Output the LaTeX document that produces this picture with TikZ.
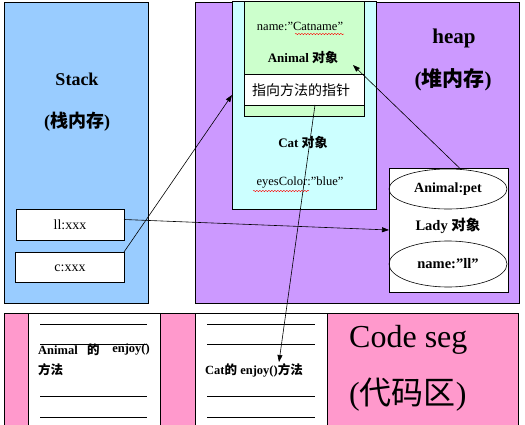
\documentclass[tikz,border=0pt]{standalone}
\usepackage{fontspec}
\setmainfont{Liberation Serif}
\newfontfamily\cjk{Noto Sans CJK SC}
\usetikzlibrary{arrows.meta,decorations.pathmorphing,shapes.geometric}
\definecolor{stackblue}{HTML}{99CCFF}
\definecolor{heapviolet}{HTML}{CC99FF}
\definecolor{catcyan}{HTML}{CCFFFF}
\definecolor{animalgreen}{HTML}{CCFFCC}
\definecolor{codepink}{HTML}{FF99CC}
\newcommand{\zh}[1]{{\cjk #1}}
\newcommand{\fs}[1]{\fontsize{#1}{#1}\selectfont}
\begin{document}
\begin{tikzpicture}[x=1pt,y=-1pt,
  box/.style={draw=black, line width=0.8pt, anchor=north west, inner sep=0pt, outer sep=0pt},
  plain/.style={draw=none, anchor=north west, inner sep=0pt, outer sep=0pt},
  oval/.style={draw=black, line width=0.6pt, ellipse, inner sep=0pt, outer sep=0pt},
  lbl/.style={inner sep=0pt, outer sep=0pt, font=\fs{12.5}},
  blbl/.style={inner sep=0pt, outer sep=0pt, font=\fs{13}\bfseries},
  rule/.style={line width=0.7pt},
  squiggle/.style={red, line width=0.4pt, decorate, decoration={snake, segment length=3pt, amplitude=0.7pt}},
  arr/.style={-{Triangle[length=7pt,width=5pt]}, line width=0.6pt}]
\useasboundingbox (0,0) rectangle (525,425);

% ---------- Stack ----------
\node[box, fill=stackblue, minimum width=144pt, minimum height=301pt] (stack) at (4,2) {};
\node[inner sep=0pt, font=\fs{18}\bfseries] (stacklbl) at (77,79) {Stack};
\node[inner sep=0pt, font=\fs{18}\bfseries] (stacklbl2) at (77,122) {(\zh{栈内存})};
\node[box, fill=white, minimum width=108pt, minimum height=31pt] (llbox) at (16,209) {};
\node[lbl, font=\fs{14}] (lltext) at (70,225) {ll:xxx};
\node[box, fill=white, minimum width=109pt, minimum height=30pt] (cbox) at (15,252) {};
\node[lbl, font=\fs{14}] (ctext) at (70,268) {c:xxx};

% ---------- Heap ----------
\node[box, fill=heapviolet, minimum width=324pt, minimum height=301pt] (heap) at (195,2) {};
\node[inner sep=0pt, font=\fs{21}\bfseries] (heaplbl) at (454,38) {heap};
\node[inner sep=0pt, font=\fs{21}\bfseries] (heaplbl2) at (453,80) {(\zh{堆内存})};

\node[box, fill=catcyan, minimum width=144pt, minimum height=208pt] (cat) at (232,1) {};
\node[box, fill=animalgreen, minimum width=120pt, minimum height=115pt] (animal) at (244,1) {};
\node[box, fill=white, minimum width=120pt, minimum height=31pt] (pointer) at (244,74) {};
\node[lbl] (catname) at (300,26) {name:”Catname”};
\node[blbl] (animallbl) at (303,58) {Animal \zh{对象}};
\node[lbl, font=\fs{14}] (pointerlbl) at (301,90) {\zh{指向方法的指针}};
\node[blbl] (catlbl) at (303,143) {Cat \zh{对象}};
\node[lbl] (eyes) at (300,183) {eyesColor:”blue”};
\draw[squiggle] (295,34) -- (344,34);
\draw[squiggle] (253,191) -- (309,191);

\node[box, fill=white, minimum width=119pt, minimum height=124pt] (lady) at (389,168) {};
\node[oval, minimum width=118pt, minimum height=40pt] (pet) at (448,189) {};
\node[blbl, font=\fs{14}\bfseries] (petlbl) at (448,189) {Animal:pet};
\node[blbl, font=\fs{14.5}\bfseries] (ladylbl) at (448,226) {Lady \zh{对象}};
\node[oval, minimum width=118pt, minimum height=46pt] (ladyname) at (448,264) {};
\node[blbl, font=\fs{14.5}\bfseries] (ladynamelbl) at (448,264) {name:”ll”};

% ---------- Code segment ----------
\node[box, fill=codepink, minimum width=514pt, minimum height=120pt] (code) at (4,313) {};
\node[box, fill=white, minimum width=132pt, minimum height=120pt] (col1) at (28,313) {};
\node[box, fill=white, minimum width=132pt, minimum height=120pt] (col2) at (195,313) {};
\foreach \yy in {324,344,396,417} {
  \draw[rule] (40,\yy) -- (147,\yy);
  \draw[rule] (207,\yy) -- (315,\yy);
}
\node[inner sep=0pt, anchor=west, font=\fs{12.5}\bfseries] (a1) at (38,350) {Animal};
\node[inner sep=0pt, anchor=west, font=\fs{12.5}\bfseries] (a2) at (87,350) {\zh{的}};
\node[inner sep=0pt, anchor=east, font=\fs{12.5}\bfseries] (a3) at (150,350) {enjoy()};
\node[inner sep=0pt, anchor=west, font=\fs{12.5}\bfseries] (a4) at (38,370) {\zh{方法}};
\node[inner sep=0pt, anchor=west, font=\fs{12.5}\bfseries] (catenjoy) at (205,370) {Cat\zh{的} enjoy()\zh{方法}};
\node[inner sep=0pt, anchor=west, font=\fs{32}] (codelbl) at (349,340) {Code seg};
\node[inner sep=0pt, anchor=west, font=\fs{32}] (codelbl2) at (349,395) {(\zh{代码区})};

% ---------- Connectors ----------
\coordinate (animaltip) at (353,65);
\coordinate (cattip) at (279,362);
\draw[arr] ([yshift=5pt]llbox.east) -- (lady.west);
\draw[arr] (cbox.north east) -- ([yshift=10pt]cat.west);
\draw[arr] ([xshift=11pt]lady.north) -- (animaltip);
\draw[arr] ([xshift=11pt]pointer.south) -- (cattip);
\end{tikzpicture}
\end{document}
